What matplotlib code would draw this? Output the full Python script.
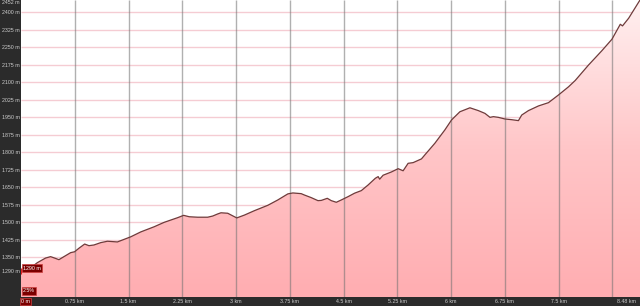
import numpy as np
import matplotlib.pyplot as plt
from matplotlib.colors import LinearSegmentedColormap

plt.rcParams['font.family'] = ['Liberation Sans', 'DejaVu Sans']

# elevation profile (distance in km, elevation in m)
dist_km = [0.0, 0.08, 0.157, 0.227, 0.343, 0.413, 0.459, 0.529, 0.599, 0.692,
           0.748, 0.808, 0.888, 0.948, 1.018, 1.112, 1.206, 1.345, 1.438, 1.531,
           1.671, 1.857, 1.997, 2.091, 2.185, 2.269, 2.347, 2.464, 2.604, 2.674,
           2.744, 2.790, 2.884, 3.010, 3.116, 3.256, 3.443, 3.583, 3.723, 3.793,
           3.909, 3.955, 4.049, 4.143, 4.189, 4.273, 4.329, 4.399, 4.469, 4.562,
           4.654, 4.748, 4.842, 4.944, 4.983, 5.004, 5.052, 5.168, 5.262, 5.331,
           5.401, 5.471, 5.587, 5.634, 5.774, 5.913, 6.007, 6.123, 6.263, 6.380,
           6.473, 6.543, 6.590, 6.660, 6.752, 6.846, 6.940, 6.986, 7.080, 7.220,
           7.359, 7.499, 7.639, 7.732, 7.917, 8.105, 8.245, 8.361, 8.392, 8.478,
           8.636]
elev_m = [1290, 1303, 1309, 1326, 1346, 1352, 1347, 1339, 1352, 1369,
          1373, 1388, 1406, 1399, 1402, 1412, 1418, 1415, 1426, 1437,
          1458, 1480, 1499, 1509, 1519, 1529, 1523, 1521, 1521, 1526,
          1535, 1540, 1538, 1518, 1530, 1549, 1572, 1595, 1621, 1625,
          1622, 1616, 1605, 1592, 1593, 1602, 1592, 1585, 1595, 1609,
          1624, 1635, 1659, 1688, 1695, 1684, 1701, 1715, 1729, 1720,
          1752, 1755, 1771, 1788, 1838, 1895, 1938, 1973, 1990, 1978,
          1966, 1949, 1952, 1949, 1942, 1939, 1935, 1959, 1978, 1998,
          2012, 2045, 2080, 2107, 2173, 2235, 2284, 2348, 2341, 2374,
          2452]

y_min, y_max = 1179, 2452
grid_rows = [1350, 1425, 1500, 1575, 1650, 1725, 1800, 1875, 1950, 2025,
             2100, 2175, 2250, 2325, 2400]
ytick_vals = [1290] + grid_rows + [2452]
ytick_labels = [f"{v} m" for v in ytick_vals]
xtick_vals = [0, 0.75, 1.5, 2.25, 3, 3.75, 4.5, 5.25, 6, 6.75, 7.5, 8.25]
xtick_labels = ['0 m', '0.75 km', '1.5 km', '2.25 km', '3 km', '3.75 km',
                '4.5 km', '5.25 km', '6 km', '6.75 km', '7.5 km', '']
end_label = '8.48 km'
start_label = '1290 m'
grade_label = '2.5%'

dark = '#2b2b2b'
txt = '#cfcfcf'
fs = 3.8
box = dict(facecolor='#7a0000', edgecolor='#d04040', lw=0.5, pad=0.8)

fig = plt.figure(figsize=(6.4, 3.06), dpi=100, facecolor=dark)
ax = fig.add_axes([21 / 640, 9 / 306, 619 / 640, 297 / 306])
ax.set_facecolor('white')
ax.set_xlim(0, dist_km[-1])
ax.set_ylim(y_min, y_max)
for s in ax.spines.values():
    s.set_visible(False)

ax.hlines(grid_rows, 0, dist_km[-1], colors='#f5ccd3', lw=1, zorder=0.5)

# gradient fill under the profile
cmap = LinearSegmentedColormap.from_list('fill', ['#ffadb1', '#ffc6c8', '#fff0f0'])
grad = np.linspace(0, 1, 256).reshape(-1, 1)
im = ax.imshow(grad, extent=[0, dist_km[-1], y_min, y_max], origin='lower',
               aspect='auto', cmap=cmap, zorder=1)
poly = ax.fill_between(dist_km, elev_m, y_min, facecolor='none', edgecolor='none')
im.set_clip_path(poly.get_paths()[0], transform=ax.transData)

ax.vlines(xtick_vals[1:], y_min, y_max, colors='#707070', alpha=0.55, lw=1, zorder=2)
ax.plot(dist_km, elev_m, color='#6e3b3b', lw=0.9, zorder=3)
ax.plot(dist_km[0], elev_m[0], marker='+', color='#e02020', ms=4, mew=0.8, zorder=4)

ax.set_yticks(ytick_vals, ytick_labels)
ax.set_xticks(xtick_vals, xtick_labels)
ax.tick_params(length=0, labelsize=fs, labelcolor=txt)
ax.tick_params(axis='y', pad=1)
ax.tick_params(axis='x', pad=1.5)
ax.get_yticklabels()[-1].set_va('top')
lab0 = ax.get_xticklabels()[0]
lab0.set_ha('left')
lab0.set_color('white')
lab0.set_bbox(box)

ax.text(0.9935, -0.006, end_label, transform=ax.transAxes, ha='right', va='top',
        fontsize=fs, color=txt)
ax.annotate(start_label, (dist_km[0], elev_m[0]), xytext=(1.2, 2.2),
            textcoords='offset points', ha='left', va='center', fontsize=fs,
            color='white', bbox=box, zorder=5)
ax.text(0.003, 0.012, grade_label, transform=ax.transAxes, ha='left', va='bottom',
        fontsize=fs, color='white', bbox=box, zorder=5)

plt.savefig('out.png', dpi=100, facecolor=dark)
